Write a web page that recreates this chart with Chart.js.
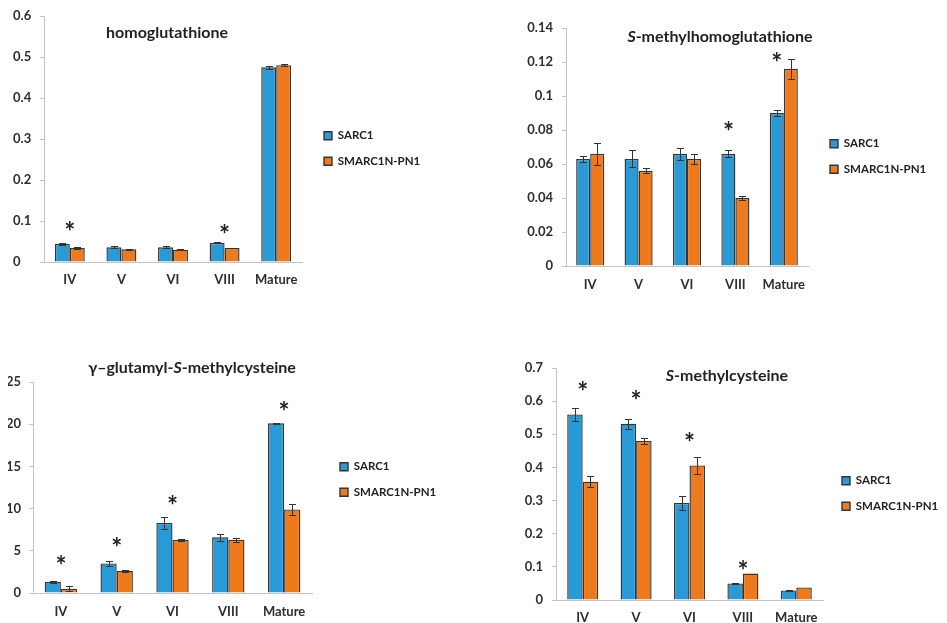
<!DOCTYPE html>
<html>
<head>
<meta charset="utf-8">
<script src="https://cdn.jsdelivr.net/npm/chart.js@4.4.1/dist/chart.umd.min.js"></script>
<style>
  html, body { margin: 0; padding: 0; background: #fff; }
  #wrap { position: relative; width: 947px; height: 623px; overflow: hidden; }
  #wrap canvas { position: absolute; left: 0; top: 0; }
</style>
</head>
<body>
<div id="wrap">
  <canvas id="c1" width="947" height="623"></canvas>
  <canvas id="c2" width="947" height="623"></canvas>
  <canvas id="c3" width="947" height="623"></canvas>
  <canvas id="c4" width="947" height="623"></canvas>
</div>
<script>
const stages = ["IV", "V", "VI", "VIII", "Mature"];
const seriesNames = ["SARC1", "SMARC1N-PN1"];

// homoglutathione
const hgSarc = [0.044, 0.036, 0.036, 0.047, 0.475];
const hgSarcErr = [0.003, 0.003, 0.003, 0.001, 0.004];
const hgSmarc = [0.034, 0.031, 0.030, 0.034, 0.480];
const hgSmarcErr = [0.002, 0.001, 0.001, 0.001, 0.002];
const hgStars = [0.088, null, null, 0.080, null];
const hgTicks = ["0", "0.1", "0.2", "0.3", "0.4", "0.5", "0.6"];

// S-methylhomoglutathione
const smhgSarc = [0.063, 0.063, 0.066, 0.066, 0.090];
const smhgSarcErr = [0.002, 0.005, 0.0035, 0.002, 0.0015];
const smhgSmarc = [0.066, 0.056, 0.063, 0.040, 0.116];
const smhgSmarcErr = [0.0065, 0.0015, 0.003, 0.001, 0.006];
const smhgStars = [null, null, null, 0.0824, 0.123];
const smhgTicks = ["0", "0.02", "0.04", "0.06", "0.08", "0.1", "0.12", "0.14"];

// gamma-glutamyl-S-methylcysteine
const ggSarc = [1.3, 3.5, 8.3, 6.6, 20.1];
const ggSarcErr = [0.1, 0.25, 0.7, 0.4, 0.1];
const ggSmarc = [0.5, 2.6, 6.3, 6.3, 9.9];
const ggSmarcErr = [0.3, 0.1, 0.1, 0.2, 0.7];
const ggStars = [3.9, 6.0, 11.0, null, 22.1];
const ggTicks = ["0", "5", "10", "15", "20", "25"];

// S-methylcysteine
const smcSarc = [0.560, 0.532, 0.293, 0.050, 0.029];
const smcSarcErr = [0.020, 0.015, 0.022, 0.002, 0.002];
const smcSmarc = [0.357, 0.480, 0.406, 0.080, 0.038];
const smcSmarcErr = [0.016, 0.010, 0.026, 0, 0];
const smcStars = [0.646, 0.619, 0.492, 0.106, null];
const smcTicks = ["0", "0.1", "0.2", "0.3", "0.4", "0.5", "0.6", "0.7"];

const BLUE = "#2a9ad7";
const ORANGE = "#ef7a1c";
const EDGE = "#353535";
const TEXT = "#2e2e2e";
const AXIS = "#c4c4c4";
const FONT = "Lato, 'Open Sans', sans-serif";

// error bars drawn from dataset.errors through the y scale
const errorBars = {
  id: "errorBars",
  afterDatasetsDraw(chart) {
    const ctx = chart.ctx, y = chart.scales.y;
    ctx.save();
    ctx.strokeStyle = "#333";
    ctx.lineWidth = 1;
    chart.data.datasets.forEach((ds, di) => {
      chart.getDatasetMeta(di).data.forEach((bar, i) => {
        const e = ds.errors[i];
        if (!e) return;
        const top = Math.round(y.getPixelForValue(ds.data[i] + e)) + 0.5;
        const bot = Math.round(y.getPixelForValue(ds.data[i] - e)) + 0.5;
        const x = Math.round(bar.x) + 0.5;
        ctx.beginPath();
        ctx.moveTo(x, top); ctx.lineTo(x, bot);
        ctx.moveTo(x - 3.5, top); ctx.lineTo(x + 3.5, top);
        ctx.moveTo(x - 3.5, bot); ctx.lineTo(x + 3.5, bot);
        ctx.stroke();
      });
    });
    ctx.restore();
  }
};

// significance asterisks
const stars = {
  id: "stars",
  afterDatasetsDraw(chart, args, opts) {
    const {ctx, scales: {x, y}} = chart;
    ctx.save();
    ctx.font = "bold 26px " + FONT;
    ctx.fillStyle = "#222";
    ctx.textAlign = "center";
    ctx.textBaseline = "alphabetic";
    const m = ctx.measureText("*");
    const mid = (m.actualBoundingBoxAscent - m.actualBoundingBoxDescent) / 2;
    opts.values.forEach((v, i) => {
      if (v == null) return;
      ctx.fillText("*", x.getPixelForValue(i) + (opts.shift || 0), y.getPixelForValue(v) + mid);
    });
    ctx.restore();
  }
};

// title with italic parts
const mixedTitle = {
  id: "mixedTitle",
  afterDraw(chart, args, opts) {
    const ctx = chart.ctx;
    ctx.save();
    ctx.fillStyle = "#222";
    ctx.textBaseline = "middle";
    const fontOf = p => (p.italic ? "italic " : "") + "bold 16px " + FONT;
    let total = 0;
    opts.parts.forEach(p => { ctx.font = fontOf(p); total += ctx.measureText(p.text).width; });
    let x = opts.x - total / 2;
    opts.parts.forEach(p => {
      ctx.font = fontOf(p);
      ctx.fillText(p.text, x, opts.y);
      x += ctx.measureText(p.text).width;
    });
    ctx.restore();
  }
};

// move the legend to its spot beside the plot
const legendAt = {
  id: "legendAt",
  afterLayout(chart, args, opts) {
    const L = chart.legend;
    L.left = opts.x - 14;
    L.top = opts.y - 14 - 6;
    L.right = L.left + 200;
    L.bottom = L.top + 100;
  }
};

function makePanel(id, p) {
  new Chart(document.getElementById(id), {
    type: "bar",
    data: {
      labels: stages,
      datasets: [
        { label: seriesNames[0], data: p.sarc, errors: p.sarcErr, backgroundColor: BLUE, borderColor: EDGE, borderWidth: 1.4 },
        { label: seriesNames[1], data: p.smarc, errors: p.smarcErr, backgroundColor: ORANGE, borderColor: EDGE, borderWidth: 1.4 }
      ]
    },
    options: {
      responsive: false,
      animation: false,
      events: [],
      datasets: { bar: { barPercentage: 1, categoryPercentage: 0.58 } },
      layout: { padding: p.pad },
      scales: {
        x: {
          grid: { display: false, drawTicks: false },
          border: { display: true, color: AXIS, width: 1 },
          ticks: { color: TEXT, font: { family: FONT, size: 13, weight: "bold" }, padding: p.xPad, maxRotation: 0 },
          afterFit(s) { s.height = p.xH; }
        },
        y: {
          min: 0, max: p.max,
          grid: { display: true, drawOnChartArea: false, drawTicks: true, tickLength: 4, color: AXIS },
          border: { display: true, color: AXIS, width: 1 },
          ticks: {
            stepSize: p.step,
            color: TEXT,
            font: { family: FONT, size: 13, weight: "bold" },
            padding: p.yPad,
            crossAlign: p.align,
            callback: (v, i) => p.ticks[i]
          },
          afterFit(s) { s.width = p.yW; }
        }
      },
      plugins: {
        legend: {
          position: "chartArea",
          align: "start",
          labels: { color: "#222", font: { family: FONT, size: 11.5, weight: "bold" }, boxWidth: 8, boxHeight: 8, padding: 14 }
        },
        tooltip: { enabled: false },
        stars: { values: p.stars, shift: p.starShift || 0 },
        mixedTitle: { parts: p.title, x: p.titleX, y: p.titleY },
        legendAt: p.legend
      }
    },
    plugins: [errorBars, stars, mixedTitle, legendAt]
  });
}

makePanel("c1", {
  sarc: hgSarc, sarcErr: hgSarcErr, smarc: hgSmarc, smarcErr: hgSmarcErr, stars: hgStars, ticks: hgTicks,
  max: 0.6, step: 0.1, yW: 31, xH: 30, yPad: 8, xPad: 10, align: "far",
  pad: { left: 13, top: 16, right: 645, bottom: 331 },
  title: [{ text: "homoglutathione" }], titleX: 167, titleY: 33,
  legend: { x: 324, y: 136 }
});

makePanel("c2", {
  sarc: smhgSarc, sarcErr: smhgSarcErr, smarc: smhgSmarc, smarcErr: smhgSmarcErr, stars: smhgStars, ticks: smhgTicks,
  max: 0.14, step: 0.02, yW: 40, xH: 30, yPad: 9, xPad: 11, align: "near", starShift: -7,
  pad: { left: 526, top: 28, right: 139, bottom: 327 },
  title: [{ text: "S", italic: true }, { text: "-methylhomoglutathione" }], titleX: 720, titleY: 37,
  legend: { x: 830, y: 144 }
});

makePanel("c3", {
  sarc: ggSarc, sarcErr: ggSarcErr, smarc: ggSmarc, smarcErr: ggSmarcErr, stars: ggStars, ticks: ggTicks,
  max: 25, step: 5, yW: 25, xH: 30, yPad: 8, xPad: 11, align: "near",
  pad: { left: 8, top: 382, right: 635, bottom: 0 },
  title: [{ text: "γ–glutamyl-" }, { text: "S", italic: true }, { text: "-methylcysteine" }], titleX: 192, titleY: 368,
  legend: { x: 340, y: 467 }
});

makePanel("c4", {
  sarc: smcSarc, sarcErr: smcSarcErr, smarc: smcSmarc, smarcErr: smcSmarcErr, stars: smcStars, ticks: smcTicks,
  max: 0.7, step: 0.1, yW: 40, xH: 23, yPad: 9, xPad: 10, align: "near",
  pad: { left: 516, top: 368, right: 124, bottom: 0 },
  title: [{ text: "S", italic: true }, { text: "-methylcysteine" }], titleX: 727, titleY: 376,
  legend: { x: 842, y: 481 }
});
</script>
</body>
</html>
